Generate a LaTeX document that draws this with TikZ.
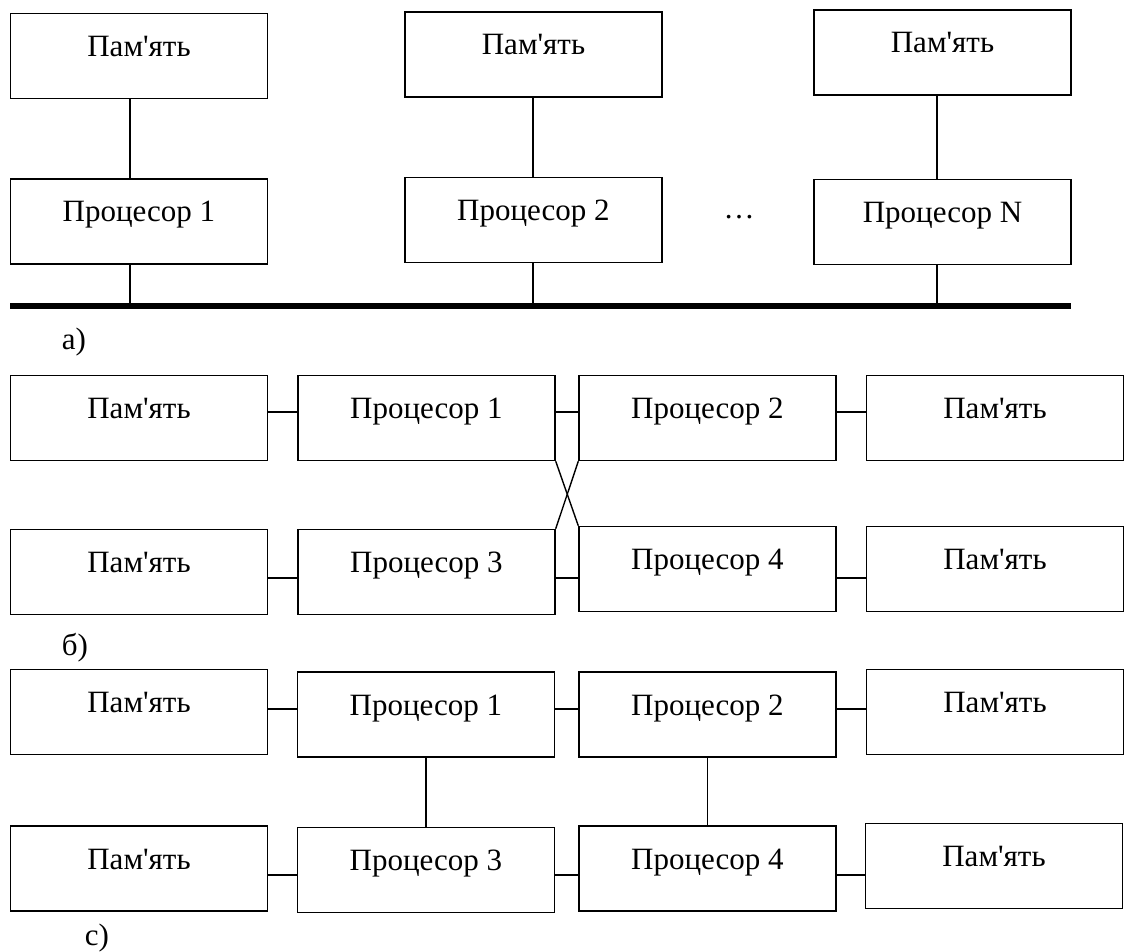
\documentclass[tikz,border=0pt]{standalone}
\usepackage{fontspec}
\setmainfont{Liberation Serif}[Ligatures=TeXOff]
\usetikzlibrary{positioning}

\begin{document}
\begin{tikzpicture}[x=0.5pt, y=-0.5pt, every node/.style={font=\fontsize{15.5}{18}\selectfont}]
  \def\BW{128.5pt}\def\BH{42.5pt}
  \tikzset{
    unit/.style={draw, line width=0.7pt, minimum width=\BW, minimum height=\BH, inner sep=0pt,
      text height=21.5pt, text depth=21pt},
    wire/.style={line width=0.7pt},
    link/.style={line width=0.9pt},
    bus/.style={line width=3pt},
    tag/.style={inner sep=0pt},
  }
  \useasboundingbox (0,0) rectangle (1124,952);
  %% a) processors on one common bus
  \node[unit] (memA1) at (139,56) {Пам'ять};
  \node[unit] (cpuA1) at (139,221.5) {Процесор 1};
  \node[unit] (memA2) at (533.5,54.5) {Пам'ять};
  \node[unit] (cpuA2) at (533.5,220) {Процесор 2};
  \node[unit] (memAN) at (942.5,52.5) {Пам'ять};
  \node[unit] (cpuAN) at (942.5,222) {Процесор N};
  \node[tag, anchor=base] (dots) at (739,219) {…};
  \coordinate (busL) at (10,306); \coordinate (busR) at (1071,306);
  \coordinate (tapA1) at (130,306); \coordinate (tapA2) at (533,306); \coordinate (tapAN) at (937,306);
  \draw[bus] (busL) -- (busR);
  \foreach \k in {1,2,N} {
    \draw[wire] (memA\k.south -| tapA\k) -- (cpuA\k.north -| tapA\k);
    \draw[wire] (cpuA\k.south -| tapA\k) -- (tapA\k);
  }
  \node[tag] (capA) at (74,342) {а)};
  %% b) two rows, crossed links between the middle processors
  \node[unit] (memB1) at (139,418) {Пам'ять};
  \node[unit] (cpuB1) at (426.5,418) {Процесор 1};
  \node[unit] (cpuB2) at (707.5,418) {Процесор 2};
  \node[unit] (memB2) at (995,418) {Пам'ять};
  \node[unit] (memB3) at (139,572) {Пам'ять};
  \node[unit] (cpuB3) at (426.5,572) {Процесор 3};
  \node[unit] (cpuB4) at (707.5,569) {Процесор 4};
  \node[unit] (memB4) at (995,569) {Пам'ять};
  \draw[link] ([yshift=3pt]memB1.east) -- ([yshift=3pt]cpuB1.west);
  \draw[link] ([yshift=3pt]cpuB1.east) -- ([yshift=3pt]cpuB2.west);
  \draw[link] ([yshift=3pt]cpuB2.east) -- ([yshift=3pt]memB2.west);
  \draw[link] ([yshift=-3pt]memB3.east) -- ([yshift=-3pt]cpuB3.west);
  \draw[link] ([yshift=-3pt]cpuB3.east) -- ([yshift=-4.5pt]cpuB4.west);
  \draw[link] ([yshift=-4.5pt]cpuB4.east) -- ([yshift=-4.5pt]memB4.west);
  \draw[wire] (cpuB1.south east) -- (cpuB4.north west);
  \draw[wire] (cpuB2.south west) -- (cpuB3.north east);
  \node[tag] (capB) at (75,648) {б)};
  %% c) two rows, vertical links
  \node[unit] (memC1) at (139,712) {Пам'ять};
  \node[unit] (cpuC1) at (426,714.5) {Процесор 1};
  \node[unit] (cpuC2) at (707.5,714.5) {Процесор 2};
  \node[unit] (memC2) at (995,712) {Пам'ять};
  \node[unit] (memC3) at (139,868.5) {Пам'ять};
  \node[unit] (cpuC3) at (426,870) {Процесор 3};
  \node[unit] (cpuC4) at (707.5,868.5) {Процесор 4};
  \node[unit] (memC4) at (994,866) {Пам'ять};
  \draw[link] ([yshift=1.5pt]memC1.east) -- ([yshift=2.75pt]cpuC1.west);
  \draw[link] ([yshift=2.75pt]cpuC1.east) -- ([yshift=2.75pt]cpuC2.west);
  \draw[link] ([yshift=2.75pt]cpuC2.east) -- ([yshift=1.5pt]memC2.west);
  \draw[link] ([yshift=-3.25pt]memC3.east) -- ([yshift=-2.5pt]cpuC3.west);
  \draw[link] ([yshift=-2.5pt]cpuC3.east) -- ([yshift=-3.25pt]cpuC4.west);
  \draw[link] ([yshift=-3.25pt]cpuC4.east) -- ([yshift=-4.5pt]memC4.west);
  \draw[wire] (cpuC1.south) -- (cpuC3.north);
  \draw[wire] (cpuC2.south) -- (cpuC4.north);
  \node[tag] (capC) at (97,938) {с)};
\end{tikzpicture}
\end{document}
